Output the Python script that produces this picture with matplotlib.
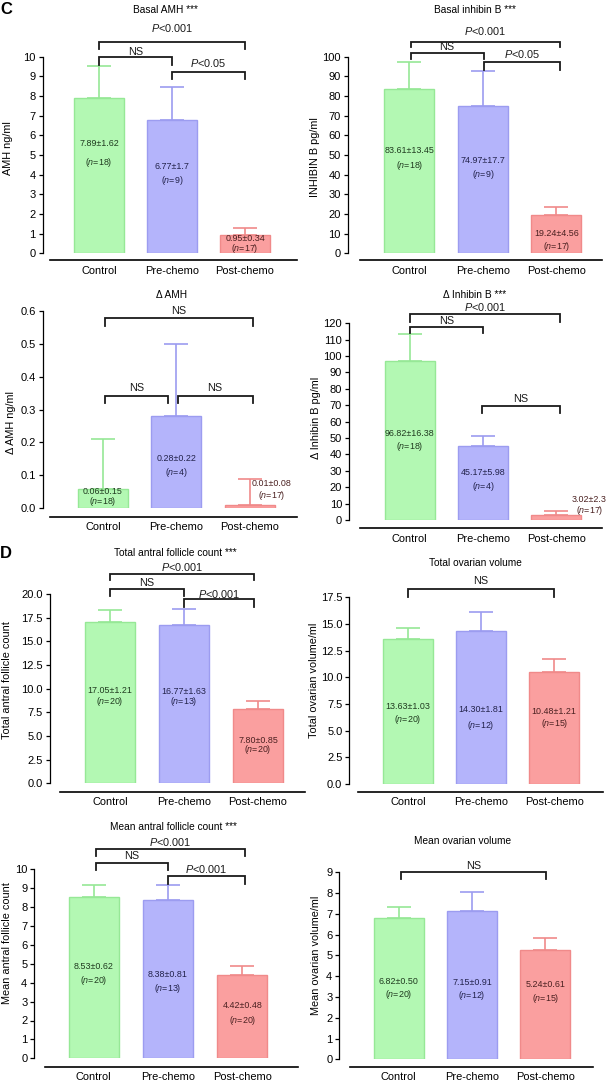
import matplotlib
matplotlib.use("Agg")
import matplotlib.pyplot as plt

plt.rcParams['font.family'] = ['Liberation Sans', 'DejaVu Sans']
plt.rcParams['mathtext.fontset'] = 'custom'
plt.rcParams['mathtext.rm'] = 'Liberation Sans'
plt.rcParams['mathtext.it'] = 'Liberation Sans:italic'

categories = ['Control', 'Pre-chemo', 'Post-chemo']

amh_mean = [7.89, 6.77, 0.95]
amh_sd = [1.62, 1.7, 0.34]
amh_n = [18, 9, 17]

inhb_mean = [83.61, 74.97, 19.24]
inhb_sd = [13.45, 17.7, 4.56]
inhb_n = [18, 9, 17]

damh_mean = [0.06, 0.28, 0.01]
damh_sd = [0.15, 0.22, 0.08]
damh_n = [18, 4, 17]

dinhb_mean = [96.82, 45.17, 3.02]
dinhb_sd = [16.38, 5.98, 2.3]
dinhb_n = [18, 4, 17]

tafc_mean = [17.05, 16.77, 7.80]
tafc_sd = [1.21, 1.63, 0.85]
tafc_n = [20, 13, 20]

tov_mean = [13.63, 14.30, 10.48]
tov_sd = [1.03, 1.81, 1.21]
tov_n = [20, 12, 15]

mafc_mean = [8.53, 8.38, 4.42]
mafc_sd = [0.62, 0.81, 0.48]
mafc_n = [20, 13, 20]

mov_mean = [6.82, 7.15, 5.24]
mov_sd = [0.50, 0.91, 0.61]
mov_n = [20, 12, 15]

faces = ['#b3f8b3', '#b4b4fb', '#fa9f9f']
edges = ['#96e896', '#9c9cf0', '#f08a8a']
txtcol = ['#1f3a1f', '#22224a', '#4a2020']

W, H = 610, 1083
fig = plt.figure(figsize=(W / 100, H / 100), dpi=100)


def fx(x):
    return x / W


def fy(y):
    return 1 - y / H


P001 = r'$\it{P}$<0.001'
P05 = r'$\it{P}$<0.05'

panels = [
    dict(mean=amh_mean, sd=amh_sd, n=amh_n, sdfmt='g',
         sx=42.7, rx=297, lx=50, zy=253.3, ty=56.7, ly=260, c0=99, step=73,
         ymax=10, ystep=1, yfmt='{:.0f}',
         title='Basal AMH ***', tpos=(165, 10), ylabel='AMH ng/ml', ypos=(8, 148),
         brackets=[(0, 2, 10.73, 0.36, P001, 11.46), (0, 1, 9.97, 0.39, 'NS', 10.25),
                   (1, 2, 9.24, 0.37, P05, 9.68)],
         tp=[(0, 5.56, 4.63), (1, 4.44, 3.68), (2, 0.73, 0.25)]),
    dict(mean=inhb_mean, sd=inhb_sd, n=inhb_n, sdfmt='g',
         sx=347.7, rx=601.7, lx=360, zy=253.3, ty=56.7, ly=260, c0=409.3, step=73.5,
         ymax=100, ystep=10, yfmt='{:.0f}',
         title='Basal inhibin B ***', tpos=(475, 10), ylabel='INHIBIN B pg/ml', ypos=(315, 157),
         brackets=[(0.02, 2.05, 107.6, 2.5, P001, 113.0), (0.02, 1.01, 102.0, 3.4, 'NS', 104.8),
                   (1.01, 2.05, 97.5, 4.2, P05, 101.2)],
         tp=[(0, 52.2, 44.6), (1, 47.1, 40.3), (2, 10.2, 3.7)]),
    dict(mean=damh_mean, sd=damh_sd, n=damh_n, sdfmt='.2f',
         sx=43.3, rx=296.7, lx=50, zy=508.3, ty=310.7, ly=516.7, c0=103, step=73.3,
         ymax=0.6, ystep=0.1, yfmt='{:.1f}',
         title='Δ AMH', tpos=(171.7, 295), ylabel='Δ AMH ng/ml', ypos=(11, 422),
         brackets=[(0.03, 2.04, 0.577, 0.023, 'NS', 0.6), (0.03, 0.88, 0.341, 0.02, 'NS', 0.366),
                   (1.02, 2.04, 0.341, 0.02, 'NS', 0.366)],
         tp=[(0, 0.05, 0.02), (1, 0.15, 0.108), (2.3, 0.076, 0.04)]),
    dict(mean=dinhb_mean, sd=dinhb_sd, n=dinhb_n, sdfmt='g',
         sx=349, rx=601.7, lx=360, zy=520, ty=323.3, ly=528.3, c0=409.7, step=73.3,
         ymax=120, ystep=10, yfmt='{:.0f}',
         title='Δ Inhibin B ***', tpos=(475, 295), ylabel='Δ Inhibin B pg/ml', ypos=(316, 418),
         brackets=[(0.0, 2.05, 125.5, 4.9, P001, 130.1), (0.0, 1.0, 117.9, 3.7, 'NS', 121.4),
                   (0.98, 2.05, 69.6, 4.5, 'NS', 73.6)],
         tp=[(0, 52.5, 44.7), (1, 28.9, 20.7), (2.45, 12.6, 6.1)]),
    dict(mean=tafc_mean, sd=tafc_sd, n=tafc_n, sdfmt='.2f',
         sx=50, rx=305, lx=60, zy=783.3, ty=594, ly=791.7, c0=110, step=74,
         ymax=20, ystep=2.5, yfmt='{:.1f}',
         title='Total antral follicle count ***', tpos=(175, 553), ylabel='Total antral follicle count',
         ypos=(7, 680),
         brackets=[(0, 1.95, 22.08, 0.6, P001, 22.88), (0, 1.0, 20.53, 0.7, 'NS', 21.13),
                   (1.0, 1.95, 19.47, 0.81, P001, 19.97)],
         tp=[(0, 9.78, 8.62), (1, 9.68, 8.62), (2, 4.57, 3.52)]),
    dict(mean=tov_mean, sd=tov_sd, n=tov_n, sdfmt='.2f',
         sx=349.3, rx=603.3, lx=358.3, zy=784, ty=597.3, ly=791.7, c0=408, step=73.1,
         ymax=17.5, ystep=2.5, yfmt='{:.1f}',
         title='Total ovarian volume', tpos=(475, 563), ylabel='Total ovarian volume/ml', ypos=(314, 680),
         brackets=[(0, 2.0, 18.25, 0.69, 'NS', 19.03)],
         tp=[(0, 7.24, 6.0), (1, 6.94, 5.53), (2, 6.84, 5.69)]),
    dict(mean=mafc_mean, sd=mafc_sd, n=mafc_n, sdfmt='.2f',
         sx=34.3, rx=298.3, lx=45, zy=1058.3, ty=869.3, ly=1066.7, c0=93.7, step=74.3,
         ymax=10, ystep=1, yfmt='{:.0f}',
         title='Mean antral follicle count ***', tpos=(173, 827), ylabel='Mean antral follicle count',
         ypos=(7, 943),
         brackets=[(0.03, 2.03, 11.07, 0.35, P001, 11.46), (0.03, 1.0, 10.35, 0.39, 'NS', 10.72),
                   (1.0, 2.03, 9.66, 0.44, P001, 10.0)],
         tp=[(0, 4.88, 4.14), (1, 4.44, 3.70), (2, 2.82, 1.99)]),
    dict(mean=mov_mean, sd=mov_sd, n=mov_n, sdfmt='.2f',
         sx=339.3, rx=593.3, lx=350, zy=1059.3, ty=872.3, ly=1066.7, c0=398.7, step=73.3,
         ymax=9, ystep=1, yfmt='{:.0f}',
         title='Mean ovarian volume', tpos=(463, 841), ylabel='Mean ovarian volume/ml', ypos=(316, 955),
         brackets=[(0.03, 2.01, 9.0, 0.32, 'NS', 9.31)],
         tp=[(0, 3.73, 3.13), (1, 3.71, 3.09), (2, 3.58, 2.94)]),
]

for p in panels:
    ax = fig.add_axes([fx(p['sx']), fy(p['zy']), (p['rx'] - p['sx']) / W, (p['zy'] - p['ty']) / H])
    x0 = (p['sx'] - p['c0']) / p['step']
    x1 = (p['rx'] - p['c0']) / p['step']
    ax.set_xlim(x0, x1)
    ax.set_ylim(0, p['ymax'])
    ax.patch.set_alpha(0)
    bw = 50 / p['step']
    xs = range(len(categories))
    for i in xs:
        ax.errorbar(i, p['mean'][i], yerr=[[0], [p['sd'][i]]], fmt='none', ecolor=edges[i],
                    elinewidth=1.2, capsize=8.5, capthick=1.2, zorder=1)
    ax.bar(xs, p['mean'], width=bw, color=faces, edgecolor=edges, linewidth=1.0, zorder=2)

    for i, (tx, y1, y2) in enumerate(p['tp']):
        s = f"{p['mean'][i]:.2f}±{p['sd'][i]:{p['sdfmt']}}"
        ax.text(tx, y1, s, ha='center', va='center', fontsize=6.4, color=txtcol[i], zorder=3,
                clip_on=False)
        ax.text(tx, y2, r'($\it{n}$=' + str(p['n'][i]) + ')', ha='center', va='center',
                fontsize=6.4, color=txtcol[i], zorder=3, clip_on=False)

    for (a, b, y, h, lab, tyy) in p['brackets']:
        ax.plot([a, a, b, b], [y - h, y, y, y - h], color='#1a1a1a', lw=1.3, clip_on=False,
                solid_joinstyle='miter')
        ax.text((a + b) / 2, tyy, lab, ha='center', va='center', fontsize=7.8, color='#1a1a1a')

    for side in ['top', 'right']:
        ax.spines[side].set_visible(False)
    ax.spines['left'].set_bounds(0, p['ymax'])
    ax.spines['left'].set_linewidth(0.9)
    ax.spines['bottom'].set_position(('outward', (p['ly'] - p['zy']) * 0.72))
    ax.spines['bottom'].set_bounds((p['lx'] - p['c0']) / p['step'], x1)
    ax.spines['bottom'].set_linewidth(1.2)

    nt = int(round(p['ymax'] / p['ystep']))
    ticks = [k * p['ystep'] for k in range(nt + 1)]
    ax.set_yticks(ticks)
    ax.set_yticklabels([p['yfmt'].format(t) for t in ticks])
    ax.tick_params(axis='y', length=3, width=0.9, pad=2, labelsize=8)
    ax.set_xticks(list(xs))
    ax.set_xticklabels(categories)
    ax.tick_params(axis='x', length=0, pad=4, labelsize=7.9)

    fig.text(fx(p['tpos'][0]), fy(p['tpos'][1]), p['title'], ha='center', va='center', fontsize=7.3)
    fig.text(fx(p['ypos'][0]), fy(p['ypos'][1]), p['ylabel'], ha='center', va='center',
             rotation=90, fontsize=7.8)

fig.text(fx(6), fy(10), 'C', ha='center', va='center', fontsize=12, fontweight='bold')
fig.text(fx(6), fy(554), 'D', ha='center', va='center', fontsize=12, fontweight='bold')

fig.savefig('out.png', dpi=100)
